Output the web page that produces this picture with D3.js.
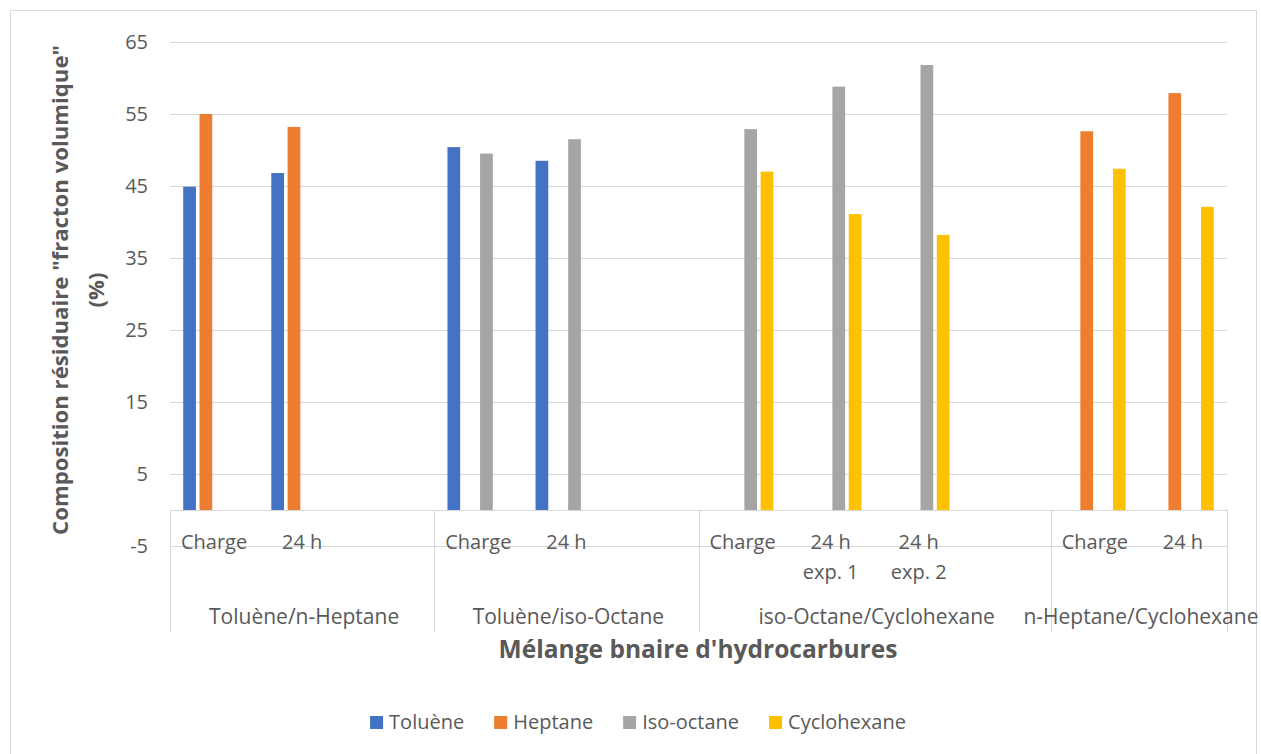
<!DOCTYPE html>
<html lang="fr">
<head>
  <meta charset="UTF-8">
  <title>Composition résiduaire</title>
  <script src="https://d3js.org/d3.v7.min.js"></script>
  <style>
    html, body {
      margin: 0;
      padding: 0;
      background: #fff;
    }
    text {
      font-family: "Open Sans", "Noto Sans", sans-serif;
      fill: #595959;
    }
    .grid line, .frame {
      stroke: #d9d9d9;
      stroke-width: 1px;
      fill: none;
    }
  </style>
</head>
<body>
  <div id="container"></div>
  <script>
    // chart data
    const groupLabels = ["Toluène/n-Heptane", "Toluène/iso-Octane", "iso-Octane/Cyclohexane", "n-Heptane/Cyclohexane"];
    const groupSizes = [3, 3, 4, 2];
    const leafLabels = [["Charge"], ["24 h"], [], ["Charge"], ["24 h"], [], ["Charge"], ["24 h", "exp. 1"], ["24 h", "exp. 2"], [], ["Charge"], ["24 h"]];
    const seriesNames = ["Toluène", "Heptane", "Iso-octane", "Cyclohexane"];
    const toluene     = [44.9, 46.8, null, 50.4, 48.5, null, null, null, null, null, null, null];
    const heptane     = [55.0, 53.2, null, null, null, null, null, null, null, null, 52.6, 57.9];
    const isoOctane   = [null, null, null, 49.5, 51.5, null, 52.9, 58.8, 61.8, null, null, null];
    const cyclohexane = [null, null, null, null, null, null, 47.0, 41.1, 38.2, null, 47.4, 42.1];
    const yTicks = [-5, 5, 15, 25, 35, 45, 55, 65];
    const yTitle = ['Composition résiduaire "fracton volumique"', "(%)"];
    const xTitle = "Mélange bnaire d'hydrocarbures";

    const seriesValues = [toluene, heptane, isoOctane, cyclohexane];
    const colors = ["#4472C4", "#ED7D31", "#A5A5A5", "#FFC000"];

    const width = 1261;
    const height = 754;
    const plot = {left: 170, right: 1227, top: 42, bottom: 546};

    const svg = d3.select('#container').append('svg')
      .attr('width', width).attr('height', height);

    svg.append('rect').attr('class', 'frame')
      .attr('x', 10.5).attr('y', 10.5).attr('width', 1246).attr('height', 760);

    // scales
    const x0 = d3.scaleBand().domain(d3.range(leafLabels.length)).range([plot.left, plot.right]);
    const x1 = d3.scaleBand().domain(seriesNames).range([0, x0.bandwidth()])
      .paddingInner(0.22).paddingOuter(0.81);
    const y = d3.scaleLinear().domain([-5, 65]).range([plot.bottom, plot.top]);

    // gridlines
    const grid = svg.append('g').attr('class', 'grid');
    grid.selectAll('line.h').data(yTicks).join('line').attr('class', 'h')
      .attr('x1', plot.left).attr('x2', plot.right)
      .attr('y1', d => Math.round(y(d)) + 0.5).attr('y2', d => Math.round(y(d)) + 0.5);

    // y axis labels (plain hyphen for negatives, as in Excel)
    const yAxis = d3.axisLeft(y).tickValues(yTicks).tickSize(0).tickPadding(22)
      .tickFormat(d => String(d));
    const yg = svg.append('g').attr('transform', `translate(${plot.left},0)`).call(yAxis);
    yg.select('.domain').remove();
    yg.selectAll('text').style('font-size', '20px').attr('fill', '#595959');

    // bars
    const bars = [];
    seriesValues.forEach((vals, si) => vals.forEach((v, i) => {
      if (v != null) bars.push({s: seriesNames[si], c: colors[si], i: i, v: v});
    }));
    svg.append('g').selectAll('rect').data(bars).join('rect')
      .attr('x', d => x0(d.i) + x1(d.s))
      .attr('width', x1.bandwidth())
      .attr('y', d => y(d.v))
      .attr('height', d => y(0) - y(d.v))
      .attr('fill', d => d.c);

    // category axis at zero
    const edge = i => i < leafLabels.length ? x0(i) : x0.range()[1];
    grid.append('line')
      .attr('x1', plot.left).attr('x2', plot.right)
      .attr('y1', Math.round(y(0)) + 0.5).attr('y2', Math.round(y(0)) + 0.5);

    const bounds = [0];
    groupSizes.forEach(n => bounds.push(bounds[bounds.length - 1] + n));
    grid.selectAll('line.v').data(bounds).join('line').attr('class', 'v')
      .attr('x1', d => Math.round(edge(d)) + 0.5).attr('x2', d => Math.round(edge(d)) + 0.5)
      .attr('y1', y(0)).attr('y2', 632);

    // leaf labels
    const leaf = svg.append('g').selectAll('text').data(leafLabels).join('text')
      .attr('text-anchor', 'middle')
      .style('font-size', '20px')
      .attr('x', (d, i) => x0(i) + x0.bandwidth() / 2)
      .attr('y', 549);
    leaf.selectAll('tspan').data(d => d).join('tspan')
      .attr('x', function() { return this.parentNode.getAttribute('x'); })
      .attr('dy', (d, i) => i === 0 ? 0 : 30)
      .text(d => d);

    // group labels
    svg.append('g').selectAll('text').data(groupLabels).join('text')
      .attr('text-anchor', 'middle')
      .style('font-size', '21px')
      .attr('x', (d, i) => (edge(bounds[i]) + edge(bounds[i + 1])) / 2 + 2)
      .attr('y', 624)
      .text(d => d);

    // fit a bold title to the width it has in the picture
    function fit(sel, target) {
      const w = sel.node().getComputedTextLength();
      sel.style('font-size', (20 * target / w) + 'px');
    }

    const xt = svg.append('text')
      .attr('text-anchor', 'middle').attr('x', 698).attr('y', 658)
      .style('font-weight', 'bold').style('font-size', '20px')
      .text(xTitle);
    fit(xt, 399);

    const yt = svg.append('g').attr('transform', 'translate(0,290) rotate(-90)');
    const yt1 = yt.append('text').attr('text-anchor', 'middle').attr('x', 0).attr('y', 68)
      .style('font-weight', 'bold').style('font-size', '20px').text(yTitle[0]);
    fit(yt1, 490);
    yt.append('text').attr('text-anchor', 'middle').attr('x', 0).attr('y', 104)
      .style('font-weight', 'bold').style('font-size', yt1.style('font-size')).text(yTitle[1]);

    // legend
    const legend = svg.append('g');
    const items = legend.selectAll('g').data(seriesNames).join('g');
    items.append('rect').attr('width', 13).attr('height', 13).attr('y', 716)
      .attr('fill', (d, i) => colors[i]);
    items.append('text').attr('x', 19).attr('y', 729).style('font-size', '20px').text(d => d);
    let pos = 0;
    items.each(function() {
      const w = d3.select(this).select('text').node().getComputedTextLength();
      d3.select(this).attr('transform', `translate(${pos},0)`);
      pos += 19 + w + 30;
    });
    const total = pos - 30;
    legend.attr('transform', `translate(${638 - total / 2},0)`);
  </script>
</body>
</html>
